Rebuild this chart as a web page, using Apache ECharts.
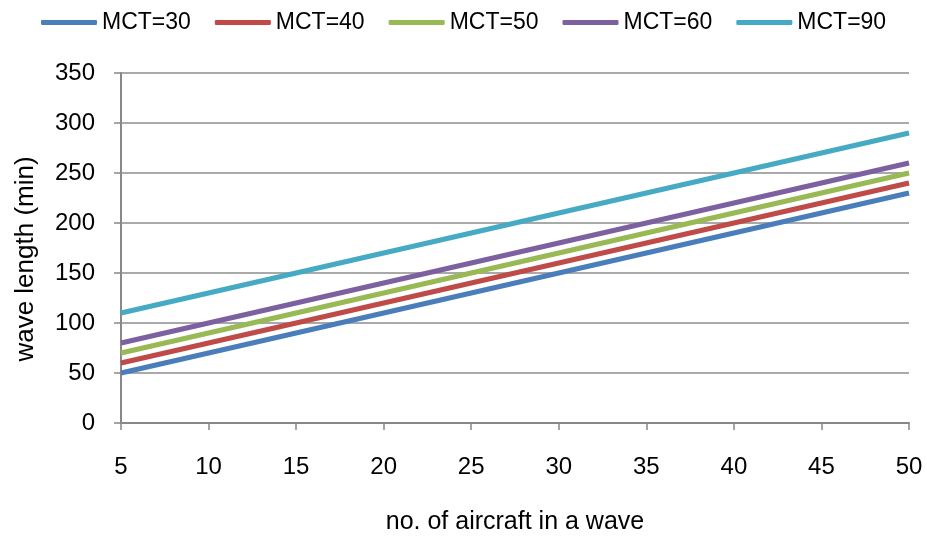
<!DOCTYPE html>
<html><head><meta charset="utf-8">
<script src="https://cdn.jsdelivr.net/npm/echarts@6/dist/echarts.min.js"></script>
<style>html,body{margin:0;padding:0;background:#fff}#c{width:927px;height:539px}</style>
</head><body><div id="c"></div>
<script>
const categories = ['5','10','15','20','25','30','35','40','45','50'];
const mct30 = [50,70,90,110,130,150,170,190,210,230];
const mct40 = [60,80,100,120,140,160,180,200,220,240];
const mct50 = [70,90,110,130,150,170,190,210,230,250];
const mct60 = [80,100,120,140,160,180,200,220,240,260];
const mct90 = [110,130,150,170,190,210,230,250,270,290];
const seriesNames = ['MCT=30','MCT=40','MCT=50','MCT=60','MCT=90'];
const colors = ['#4A7EBB','#BE4B48','#98B954','#7D60A0','#46AAC5'];
const FONT = "'Liberation Sans',sans-serif";
const chart = echarts.init(document.getElementById('c'));
const data = [mct30, mct40, mct50, mct60, mct90];
chart.setOption({
  animation:false,
  color: colors,
  textStyle:{fontFamily:FONT},
  legend:{top:6,left:36,itemWidth:56,itemHeight:5,itemGap:24,
    textStyle:{fontSize:23,color:'#000',fontFamily:FONT},
    icon:'roundRect', data: seriesNames},
  grid:{left:121,right:18,top:73,bottom:116,containLabel:false,outerBoundsMode:'none'},
  xAxis:{type:'category',boundaryGap:false,data:categories,
    name:'no. of aircraft in a wave',nameLocation:'middle',nameGap:87,
    nameTextStyle:{fontSize:25,color:'#000',fontFamily:FONT},
    axisLine:{lineStyle:{color:'#888',width:2}},
    axisTick:{show:true,length:7,lineStyle:{color:'#888',width:1.5}},
    axisLabel:{fontSize:24,color:'#000',margin:32,fontFamily:FONT},
    splitLine:{show:false}},
  yAxis:{type:'value',min:0,max:350,interval:50,
    name:'wave length (min)',nameLocation:'middle',nameGap:82,
    nameTextStyle:{fontSize:26,color:'#000',fontFamily:FONT,padding:[0,22,0,0]},
    axisLine:{show:true,lineStyle:{color:'#888',width:2}},
    axisTick:{show:true,length:7,lineStyle:{color:'#888',width:1.5}},
    axisLabel:{fontSize:24,color:'#000',margin:26,fontFamily:FONT},
    splitLine:{lineStyle:{color:'#8c8c8c',width:1.5}}},
  series: data.map((d,i)=>({name:seriesNames[i],type:'line',data:d,showSymbol:false,
    lineStyle:{width:5,color:colors[i]},itemStyle:{color:colors[i]}}))
});
</script></body></html>
